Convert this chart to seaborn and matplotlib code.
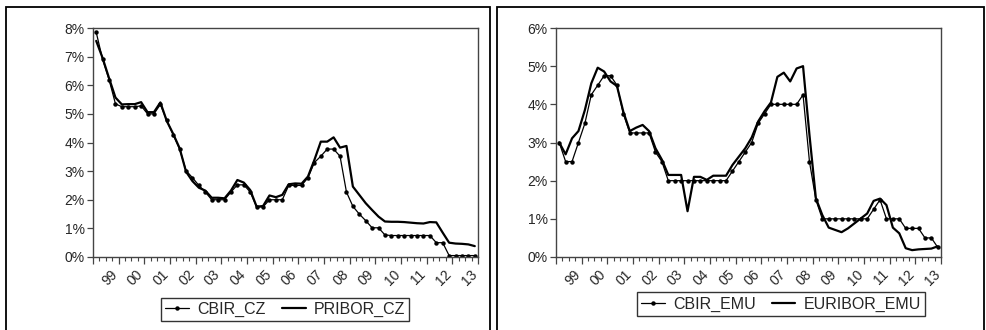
import numpy as np
import pandas as pd
import matplotlib
matplotlib.use('Agg')
import matplotlib.pyplot as plt
import seaborn as sns
from matplotlib.ticker import FuncFormatter, FixedLocator
from matplotlib.patches import Rectangle
import matplotlib.transforms as mtransforms

# ---- data (quarterly, 1999Q1 .. 2013Q4), values in percent ----
year_labels = ['99', '00', '01', '02', '03', '04', '05', '06', '07', '08', '09', '10', '11', '12', '13']

cbir_cz = [7.85, 6.90, 6.20, 5.35, 5.25, 5.25, 5.25, 5.28, 5.00, 5.00, 5.33, 4.77,
           4.27, 3.77, 3.02, 2.77, 2.50, 2.27, 2.00, 2.00, 2.00, 2.27, 2.52, 2.52,
           2.27, 1.75, 1.75, 2.00, 2.00, 2.00, 2.50, 2.50, 2.50, 2.77, 3.30, 3.52,
           3.77, 3.77, 3.52, 2.27, 1.77, 1.50, 1.27, 1.02, 1.02, 0.77, 0.75, 0.75,
           0.75, 0.75, 0.75, 0.75, 0.75, 0.50, 0.50, 0.05, 0.05, 0.05, 0.05, 0.05]

pribor_cz = [7.55, 6.95, 6.25, 5.57, 5.33, 5.34, 5.34, 5.41, 5.06, 5.06, 5.40, 4.75,
             4.30, 3.80, 2.98, 2.65, 2.42, 2.32, 2.07, 2.07, 2.05, 2.32, 2.69, 2.60,
             2.34, 1.76, 1.78, 2.15, 2.09, 2.17, 2.54, 2.57, 2.56, 2.81, 3.39, 4.03,
             4.03, 4.18, 3.82, 3.88, 2.46, 2.17, 1.88, 1.64, 1.41, 1.24, 1.23, 1.23,
             1.22, 1.20, 1.18, 1.17, 1.22, 1.21, 0.85, 0.50, 0.47, 0.46, 0.44, 0.38]

cbir_emu = [3.00, 2.50, 2.50, 3.00, 3.50, 4.25, 4.50, 4.75, 4.75, 4.50, 3.75, 3.25,
            3.25, 3.25, 3.25, 2.75, 2.50, 2.00, 2.00, 2.00, 2.00, 2.00, 2.00, 2.00,
            2.00, 2.00, 2.00, 2.25, 2.50, 2.75, 3.00, 3.50, 3.75, 4.00, 4.00, 4.00,
            4.00, 4.00, 4.25, 2.50, 1.50, 1.00, 1.00, 1.00, 1.00, 1.00, 1.00, 1.00,
            1.00, 1.25, 1.50, 1.00, 1.00, 1.00, 0.75, 0.75, 0.75, 0.50, 0.50, 0.25]

euribor_emu = [3.00, 2.69, 3.11, 3.30, 3.85, 4.55, 4.96, 4.86, 4.60, 4.48, 3.80, 3.30,
               3.39, 3.46, 3.30, 2.85, 2.55, 2.15, 2.15, 2.15, 1.20, 2.10, 2.10, 2.02,
               2.13, 2.13, 2.13, 2.41, 2.63, 2.85, 3.13, 3.55, 3.82, 4.05, 4.72, 4.83,
               4.60, 4.94, 5.00, 3.20, 1.54, 1.10, 0.77, 0.71, 0.65, 0.75, 0.88, 1.01,
               1.14, 1.47, 1.53, 1.36, 0.77, 0.62, 0.23, 0.18, 0.20, 0.21, 0.22, 0.28]

sns.set_theme(style='white')
plt.rcParams['font.family'] = ['Liberation Sans', 'DejaVu Sans']
plt.rcParams['axes.linewidth'] = 1.0

W, H = 987, 330
fig = plt.figure(figsize=(W / 100, H / 100), dpi=100)


def fig_rect(x0, y0, x1, y1):
    return [x0 / W, 1 - y1 / H, (x1 - x0) / W, (y1 - y0) / H]


# panel frames (bottom edge lies just below the canvas, as in the reference)
for (bx0, bx1) in [(6, 490), (497, 984)]:
    fig.patches.append(Rectangle((bx0 / W, 1 - 333 / H), (bx1 - bx0) / W, (333 - 7) / H,
                                 transform=fig.transFigure, fill=False,
                                 edgecolor='black', linewidth=1.3))

ax1 = fig.add_axes(fig_rect(93, 28, 478, 257))
ax2 = fig.add_axes(fig_rect(556, 28, 941, 257))


def draw(ax, cb, ib, names, ymax, leg_x, leg_y):
    n = len(cb)
    df = pd.DataFrame({'t': np.arange(n), names[0]: cb, names[1]: ib})
    sns.lineplot(data=df, x='t', y=names[0], ax=ax, color='black', linewidth=0.9,
                 marker='o', markersize=3.2, markeredgewidth=0, label=names[0])
    sns.lineplot(data=df, x='t', y=names[1], ax=ax, color='black', linewidth=1.6,
                 label=names[1])
    ax.set_xlim(-0.5, n - 0.5)
    ax.set_ylim(0, ymax)
    ax.set_xlabel('')
    ax.set_ylabel('')
    for s in ax.spines.values():
        s.set_color('#444444')
        s.set_linewidth(1.0)
    # y axis
    ax.yaxis.set_major_locator(FixedLocator(list(range(0, ymax + 1))))
    ax.yaxis.set_major_formatter(FuncFormatter(lambda v, p: f'{int(round(v))}%'))
    ax.tick_params(axis='y', which='major', direction='out', length=4, width=0.9,
                   color='#444444', labelsize=10, pad=2, left=True)
    # x axis: year boundaries (major), quarter boundaries (minor)
    ax.xaxis.set_major_locator(FixedLocator([-0.5 + 4 * k for k in range(len(year_labels) + 1)]))
    ax.xaxis.set_minor_locator(FixedLocator([-0.5 + j for j in range(n + 1)]))
    ax.xaxis.set_major_formatter(FuncFormatter(lambda v, p: ''))
    ax.tick_params(axis='x', which='major', direction='out', length=5, width=0.9,
                   color='#444444', bottom=True)
    ax.tick_params(axis='x', which='minor', direction='out', length=3, width=0.8,
                   color='#444444', bottom=True)
    trans = mtransforms.blended_transform_factory(ax.transData, ax.transAxes)
    for k, lab in enumerate(year_labels):
        ax.text(1.5 + 4 * k + 0.7, -0.045, lab, transform=trans, rotation=45,
                ha='right', va='top', rotation_mode='anchor', fontsize=10)
    leg = ax.legend(loc='center', bbox_to_anchor=(leg_x, leg_y), ncol=2, frameon=True,
                    fancybox=False, edgecolor='black', fontsize=11.5, handlelength=1.5,
                    columnspacing=1.0, handletextpad=0.5, borderpad=0.25,
                    borderaxespad=0)
    leg.get_frame().set_linewidth(1.0)


draw(ax1, cbir_cz, pribor_cz, ['CBIR_CZ', 'PRIBOR_CZ'], 8, 0.499, -0.229)
draw(ax2, cbir_emu, euribor_emu, ['CBIR_EMU', 'EURIBOR_EMU'], 6, 0.584, -0.205)

fig.savefig('out.png', dpi=100)
